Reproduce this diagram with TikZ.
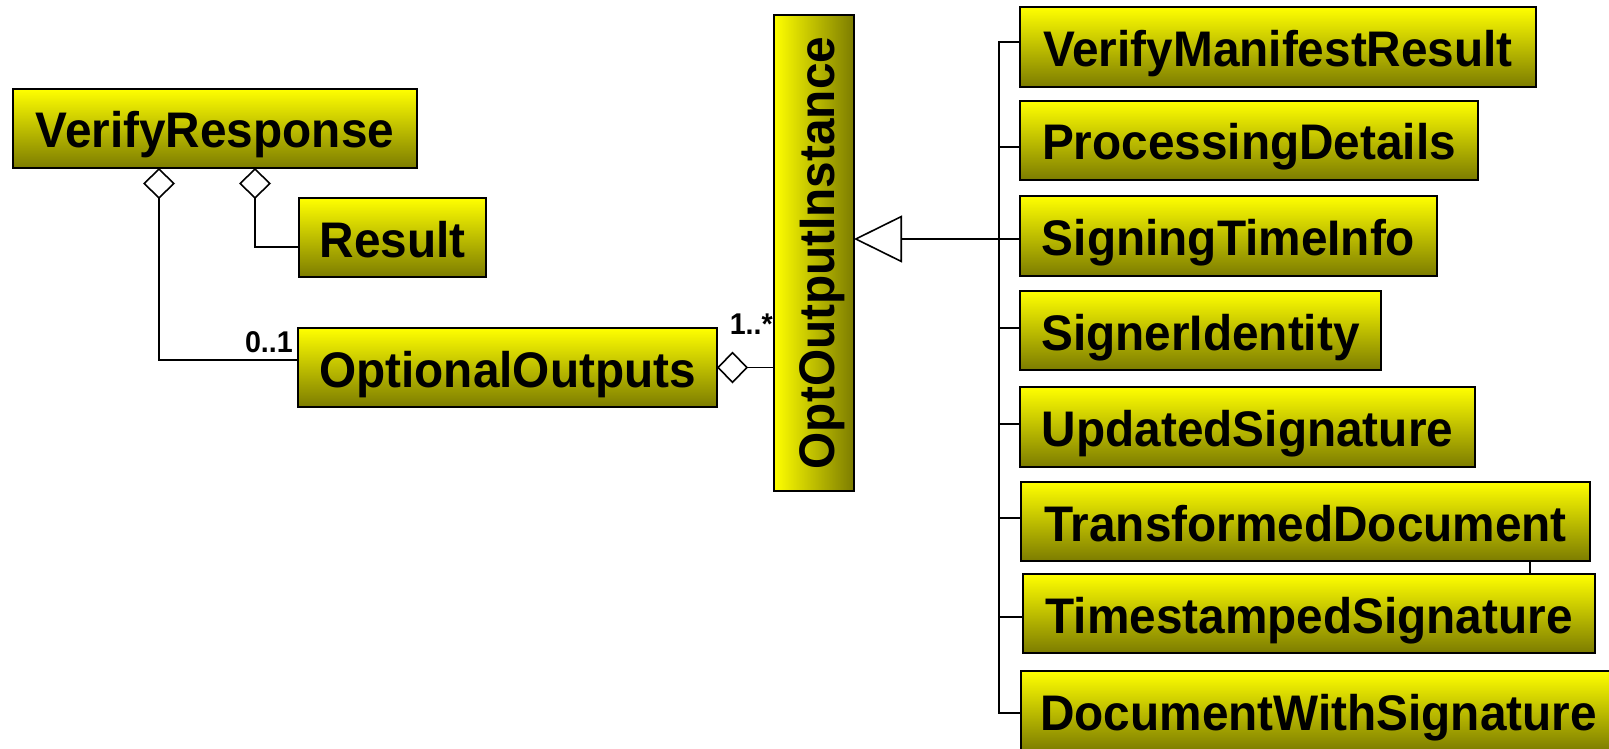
\documentclass[tikz,border=0pt]{standalone}
\usepackage{fontspec}
\usetikzlibrary{arrows.meta}
\newfontfamily\boxfont{Liberation Sans}[FakeStretch=0.955]
\definecolor{boxtop}{RGB}{255,255,0}
\definecolor{boxbot}{RGB}{124,124,0}
\tikzset{
  cls/.style={draw=black, line width=2pt, inner sep=0pt, outer sep=0pt,
    top color=boxtop, bottom color=boxbot,
    font=\boxfont\bfseries\fontsize{50}{60}\selectfont,
    text height=39pt, text depth=0pt},
  vlbl/.style={inner sep=0pt, rotate=90,
    font=\boxfont\bfseries\fontsize{50}{60}\selectfont,
    text height=41pt, text depth=0pt},
  mult/.style={inner sep=0pt, font=\boxfont\bfseries\fontsize{30}{36}\selectfont},
  conn/.style={draw=black, line width=1.6pt},
  agg/.style={conn, -{Diamond[fill=white, length=31pt, width=32pt]}},
  gen/.style={conn, -{Triangle[fill=white, length=48pt, width=47pt]}}
}
\begin{document}
\begin{tikzpicture}[x=1pt, y=-1pt]
  \fill[white] (0,0) rectangle (1609,749);
  \useasboundingbox (0,0) rectangle (1609,749);

  % left-hand classes
  \node[cls, minimum width=404pt, minimum height=79pt] (vr)  at (215,128.5) {VerifyResponse};
  \node[cls, minimum width=187pt, minimum height=79pt] (res) at (392.5,237.5) {Result};
  \node[cls, minimum width=419pt, minimum height=79pt] (oo)  at (507.5,367.5) {OptionalOutputs};

  % abstract output instance, label set vertically
  \node[draw=black, line width=2pt, inner sep=0pt, outer sep=0pt,
        left color=boxtop, right color=boxbot,
        minimum width=80pt, minimum height=476pt] (ooi) at (814,253) {};
  \node[vlbl] (ooitxt) at (ooi.center) {OptOutputInstance};

  % concrete output classes
  \node[cls, minimum width=516pt, minimum height=80pt] (vmr) at (1278,47)    {VerifyManifestResult};
  \node[cls, minimum width=458pt, minimum height=79pt] (pd)  at (1249,140.5) {ProcessingDetails};
  \node[cls, minimum width=417pt, minimum height=80pt] (sti) at (1228.5,236)  {SigningTimeInfo};
  \node[cls, minimum width=361pt, minimum height=79pt] (si)  at (1200.5,330.5) {SignerIdentity};
  \node[cls, minimum width=455pt, minimum height=80pt] (us)  at (1247.5,427)  {UpdatedSignature};
  \node[cls, minimum width=569pt, minimum height=79pt] (td)  at (1305.5,521.5) {TransformedDocument};
  \node[cls, minimum width=572pt, minimum height=79pt] (ts)  at (1309,613.5)  {TimestampedSignature};
  \node[cls, minimum width=595pt, minimum height=80pt] (dws) at (1318.5,711)  {DocumentWithSignature};

  % elbow and bus points
  \coordinate (e1) at (255,247);
  \coordinate (e2) at (159,360);
  \coordinate (g)  at (999,239);
  \coordinate (bt) at (999,42);
  \coordinate (bb) at (999,713);
  \coordinate (k2) at (999,147);
  \coordinate (k4) at (999,328);
  \coordinate (k5) at (999,424);
  \coordinate (k6) at (999,518);
  \coordinate (k7) at (999,617);
  \coordinate (lk) at (1530,0);

  % aggregations
  \draw[agg] (res.west |- e1) -| (vr.south -| e1);
  \draw[agg] (oo.west |- e2) -| (vr.south -| e2);
  \draw[agg] (ooi.west |- oo.east) -- (oo.east);

  % multiplicities
  \node[mult, anchor=base east] (m01) at (293,352) {0..1};
  \node[mult, anchor=base east] (m1n) at (773,334) {1..*};

  % generalisation bus
  \draw[gen] (sti.west |- g) -- (ooi.east |- g);
  \draw[conn] (vmr.west |- bt) -- (bt) -- (bb) -- (dws.west |- bb);
  \draw[conn] (pd.west |- k2) -- (k2);
  \draw[conn] (si.west |- k4) -- (k4);
  \draw[conn] (us.west |- k5) -- (k5);
  \draw[conn] (td.west |- k6) -- (k6);
  \draw[conn] (ts.west |- k7) -- (k7);

  % link between the two document boxes
  \draw[conn, line width=1.2pt] (td.south -| lk) -- (ts.north -| lk);
\end{tikzpicture}
\end{document}
